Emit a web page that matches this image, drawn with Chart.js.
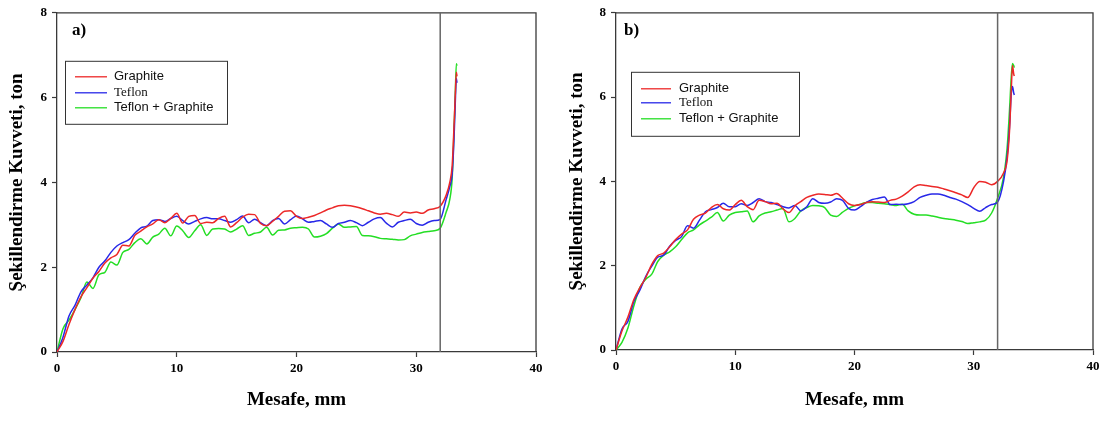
<!DOCTYPE html>
<html><head><meta charset="utf-8">
<script src="https://cdn.jsdelivr.net/npm/chart.js@4"></script>
<style>
html,body{margin:0;padding:0;background:#fff;width:1108px;height:421px;overflow:hidden}
canvas{position:absolute;top:0}
#ca{left:0}
#cb{left:554px}
</style></head><body>
<canvas id="ca" width="554" height="421"></canvas>
<canvas id="cb" width="554" height="421"></canvas>
<script>
// ---- data ----
const X_MM = [
  0,0.5,1,1.5,2,2.5,3,3.5,4,4.5,
  5,5.5,6,6.5,7,7.5,8,8.5,9,9.5,
  10,10.5,11,11.5,12,12.5,13,13.5,14,14.5,
  15,15.5,16,16.5,17,17.5,18,18.5,19,19.5,
  20,20.5,21,21.5,22,22.5,23,23.5,24,24.5,
  25,25.5,26,26.5,27,27.5,28,28.5,29,29.5,
  30,30.5,31,31.5,32,
  32.5,32.8,33.0,33.15,33.25,33.35,33.4
];
const X_TICKS = [0,10,20,30,40];
const Y_TICKS = [0,2,4,6,8];
const SERIES_NAMES = ['Graphite','Teflon','Teflon + Graphite'];
const PANEL_LABELS = ['a)','b)'];
const MARK_X = 32;
const X_TITLE = 'Mesafe, mm';
const Y_TITLE = 'Şekillendirme Kuvveti, ton';

// panel a)
const A_GRAPHITE = [
  0,0.25,0.65,1.0,1.3,1.52,1.74,1.9,2.1,2.22,
  2.3,2.52,2.5,2.75,2.85,2.95,3.02,3.12,3.05,3.15,
  3.27,3.04,3.2,3.22,3.03,3.06,3.05,3.15,3.2,2.95,
  3.05,3.18,3.25,3.24,3.03,2.98,3.08,3.2,3.32,3.33,
  3.2,3.15,3.18,3.22,3.28,3.35,3.4,3.45,3.46,3.45,
  3.42,3.38,3.33,3.28,3.25,3.27,3.24,3.2,3.3,3.28,
  3.3,3.27,3.35,3.38,3.44,
  3.7,4.0,4.4,5.3,6.0,6.6,6.5
];
const A_TEFLON = [
  0,0.35,0.85,1.1,1.42,1.58,1.75,2.0,2.15,2.35,
  2.5,2.58,2.65,2.8,2.93,2.97,3.1,3.12,3.08,3.15,
  3.2,3.1,3.02,3.08,3.14,3.17,3.14,3.14,3.1,3.06,
  3.12,3.21,3.05,3.13,3.05,2.98,3.1,3.15,3.02,3.12,
  3.21,3.14,3.06,3.08,3.1,3.02,2.94,3.03,3.06,3.1,
  3.05,2.98,3.06,3.14,3.17,3.04,2.95,3.06,3.1,3.13,
  3.03,2.99,3.06,3.1,3.13,
  3.6,3.9,4.2,5.0,5.8,6.45,6.35
];
const A_TEFLON_GRAPHITE = [
  0,0.55,0.75,1.0,1.28,1.65,1.5,1.82,1.88,2.12,
  2.05,2.35,2.42,2.58,2.67,2.55,2.71,2.78,2.92,2.74,
  2.97,2.86,2.7,2.86,3.0,2.75,2.9,2.91,2.9,2.83,
  2.9,2.98,2.75,2.8,2.83,2.94,2.76,2.87,2.88,2.92,
  2.93,2.94,2.9,2.71,2.73,2.79,2.92,3.02,2.94,2.95,
  2.96,2.75,2.74,2.72,2.68,2.67,2.66,2.64,2.65,2.74,
  2.78,2.82,2.84,2.86,2.92,
  3.3,3.6,4.1,5.2,6.0,6.8,6.75
];

// panel b)
const B_GRAPHITE = [
  0,0.45,0.78,1.2,1.48,1.72,2.03,2.24,2.3,2.45,
  2.62,2.75,2.85,3.1,3.2,3.25,3.38,3.45,3.35,3.32,
  3.45,3.55,3.4,3.33,3.55,3.52,3.47,3.48,3.35,3.26,
  3.42,3.52,3.62,3.67,3.7,3.69,3.67,3.71,3.6,3.47,
  3.43,3.45,3.5,3.52,3.51,3.5,3.55,3.58,3.65,3.75,
  3.87,3.92,3.9,3.88,3.86,3.82,3.78,3.73,3.68,3.62,
  3.85,4.0,3.98,3.92,4.0,
  4.2,4.5,5.2,6.2,6.75,6.55,6.5
];
const B_TEFLON = [
  0,0.5,0.68,1.15,1.42,1.75,1.99,2.2,2.25,2.46,
  2.6,2.69,2.95,2.89,3.08,3.28,3.33,3.38,3.48,3.4,
  3.4,3.47,3.43,3.5,3.59,3.52,3.5,3.45,3.4,3.37,
  3.43,3.3,3.4,3.59,3.5,3.48,3.51,3.59,3.55,3.36,
  3.32,3.4,3.5,3.57,3.6,3.63,3.45,3.46,3.45,3.47,
  3.52,3.62,3.67,3.7,3.7,3.67,3.62,3.58,3.52,3.45,
  3.36,3.29,3.38,3.45,3.51,
  4.0,4.6,5.3,6.1,6.25,6.1,6.05
];
const B_TEFLON_GRAPHITE = [
  0,0.18,0.52,1.05,1.48,1.68,1.8,2.1,2.25,2.33,
  2.45,2.62,2.78,2.85,2.97,3.06,3.15,3.26,3.06,3.2,
  3.26,3.28,3.3,3.04,3.18,3.25,3.28,3.32,3.36,3.04,
  3.12,3.3,3.38,3.43,3.42,3.38,3.2,3.17,3.27,3.36,
  3.42,3.46,3.5,3.5,3.48,3.47,3.45,3.43,3.46,3.3,
  3.22,3.2,3.2,3.18,3.15,3.12,3.1,3.08,3.05,3.0,
  3.02,3.04,3.08,3.25,3.6,
  4.1,4.8,5.7,6.5,6.8,6.75,6.7
];

// ---- styles ----
const SERIF = '"Liberation Serif", "Times New Roman", serif';
const SANS = '"Liberation Sans", Arial, sans-serif';
const COLORS = ['rgb(236,40,40)','rgb(40,40,232)','rgb(36,222,36)'];
const LEGEND_FONTS = ['13px ' + SANS, '13px ' + SERIF, '13px ' + SANS];
const AXIS_COLOR = '#3a3a3a';

const overlayPlugin = {
  id: 'overlay',
  afterDatasetsDraw(chart, args, o) {
    const {ctx, chartArea: a, scales: {x}} = chart;
    ctx.save();
    ctx.strokeStyle = AXIS_COLOR; ctx.lineWidth = 1.3;
    ctx.beginPath();
    ctx.moveTo(a.left, a.top); ctx.lineTo(a.right, a.top); ctx.lineTo(a.right, a.bottom);
    ctx.stroke();
    const vx = x.getPixelForValue(o.markX);
    ctx.strokeStyle = '#666'; ctx.lineWidth = 1.5;
    ctx.beginPath(); ctx.moveTo(vx, a.top); ctx.lineTo(vx, a.bottom); ctx.stroke();
    ctx.fillStyle = '#000';
    ctx.font = 'bold 17px ' + SERIF;
    ctx.textBaseline = 'middle'; ctx.textAlign = 'left';
    ctx.fillText(o.panel, a.left + o.panelDx, a.top + o.panelDy);
    const L = o.legend;
    const bx = a.left + L.x, by = a.top + L.y;
    ctx.fillStyle = '#fff';
    ctx.fillRect(bx, by, L.w, L.h);
    ctx.strokeStyle = '#333'; ctx.lineWidth = 1;
    ctx.strokeRect(bx + 0.5, by + 0.5, L.w, L.h);
    chart.data.datasets.forEach((ds, i) => {
      const ry = by + L.rows[i];
      ctx.strokeStyle = ds.borderColor; ctx.lineWidth = 1.3;
      ctx.beginPath(); ctx.moveTo(bx + L.lx0, ry); ctx.lineTo(bx + L.lx1, ry); ctx.stroke();
      ctx.fillStyle = '#111';
      ctx.font = LEGEND_FONTS[i];
      ctx.textBaseline = 'middle';
      ctx.fillText(ds.label, bx + L.tx, ry);
    });
    ctx.restore();
  }
};

function makeChart(id, panel, series, g) {
  const datasets = series.map((vals, i) => ({
    label: SERIES_NAMES[i],
    data: X_MM.map((xv, k) => ({x: xv, y: vals[k]})),
    borderColor: COLORS[i],
    borderWidth: 1.5,
    pointRadius: 0,
    fill: false,
    cubicInterpolationMode: 'monotone'
  }));
  const tickFont = {family: SERIF, weight: 'bold', size: 13};
  const titleFont = {family: SERIF, weight: 'bold', size: 19};
  return new Chart(document.getElementById(id), {
    type: 'line',
    data: {datasets},
    plugins: [overlayPlugin],
    options: {
      responsive: false, animation: false, devicePixelRatio: 1,
      layout: {padding: {left: 0, top: g.top, right: g.right, bottom: 0}},
      plugins: {
        legend: {display: false}, tooltip: {enabled: false},
        overlay: {markX: MARK_X, panel, panelDx: g.panelDx, panelDy: g.panelDy, legend: g.legend}
      },
      scales: {
        x: {
          type: 'linear', position: 'bottom', min: X_TICKS[0], max: X_TICKS[X_TICKS.length - 1],
          afterBuildTicks: s => { s.ticks = X_TICKS.map(v => ({value: v})); },
          grid: {drawOnChartArea: false, drawTicks: true, tickLength: 5, tickColor: AXIS_COLOR, tickWidth: 1.2},
          border: {display: true, color: AXIS_COLOR, width: 1.3},
          ticks: {font: tickFont, color: '#000', padding: 4, maxRotation: 0, autoSkip: false},
          title: {display: true, text: X_TITLE, font: titleFont, color: '#000', padding: {top: 0, bottom: 10}},
          afterFit: s => { s.height = g.xh; }
        },
        y: {
          type: 'linear', position: 'left', min: Y_TICKS[0], max: Y_TICKS[Y_TICKS.length - 1],
          afterBuildTicks: s => { s.ticks = Y_TICKS.map(v => ({value: v})); },
          grid: {drawOnChartArea: false, drawTicks: true, tickLength: 5, tickColor: AXIS_COLOR, tickWidth: 1.2},
          border: {display: true, color: AXIS_COLOR, width: 1.3},
          ticks: {font: tickFont, color: '#000', padding: 5, autoSkip: false},
          title: {display: true, text: Y_TITLE, font: titleFont, color: '#000', padding: {top: g.yTitlePad, bottom: 0}},
          afterFit: s => { s.width = g.yw; }
        }
      }
    }
  });
}

makeChart('ca', PANEL_LABELS[0], [A_GRAPHITE, A_TEFLON, A_TEFLON_GRAPHITE], {
  top: 8, right: 18, yw: 57, xh: 69, yTitlePad: 6,
  panelDx: 15, panelDy: 18,
  legend: {x: 8, y: 48, w: 162, h: 63, rows: [16, 32, 47], lx0: 10, lx1: 42, tx: 49}
});
makeChart('cb', PANEL_LABELS[1], [B_GRAPHITE, B_TEFLON, B_TEFLON_GRAPHITE], {
  top: 9, right: 15, yw: 62, xh: 71, yTitlePad: 12,
  panelDx: 8, panelDy: 18,
  legend: {x: 15, y: 59, w: 168, h: 64, rows: [17, 31, 47], lx0: 10, lx1: 40, tx: 48}
});
</script>
</body></html>
